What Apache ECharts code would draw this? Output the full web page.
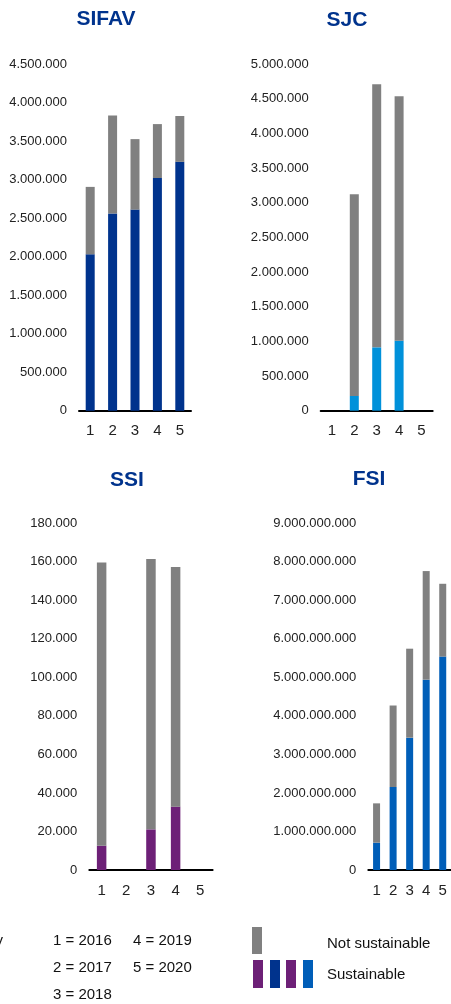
<!DOCTYPE html>
<html>
<head>
<meta charset="utf-8">
<script src="https://cdn.jsdelivr.net/npm/echarts@6/dist/echarts.min.js"></script>
<style>
html,body{margin:0;padding:0;background:#fff;}
#chart{width:451px;height:1004px;}
</style>
</head>
<body>
<div id="chart"></div>
<script>
// ---- data ----
const categories = ['1', '2', '3', '4', '5'];
const yearLabels = ['1 = 2016', '2 = 2017', '3 = 2018', '4 = 2019', '5 = 2020'];
const panelTitles = ['SIFAV', 'SJC', 'SSI', 'FSI'];

const sifavSustainable    = [2030000, 2560000, 2610000, 3020000, 3230000];
const sifavNotSustainable = [875000, 1270000, 915000, 700000, 595000];

const sjcSustainable    = [null, 212000, 914000, 1010000, null];
const sjcNotSustainable = [null, 2909000, 3793000, 3524000, null];

const ssiSustainable    = [12600, null, 21100, 32900, null];
const ssiNotSustainable = [147000, null, 140400, 124400, null];

const fsiSustainable    = [710000000, 2155000000, 3435000000, 4940000000, 5540000000];
const fsiNotSustainable = [1020000000, 2115000000, 2310000000, 2820000000, 1890000000];

const yMax      = [4500000, 5000000, 180000, 9000000000];
const yInterval = [500000, 500000, 20000, 1000000000];

const legendNot = 'Not sustainable';
const legendSus = 'Sustainable';
const keyLabel = 'Key';

// ---- styling ----
const FONT = 'Liberation Sans, Arial, sans-serif';
const GRAY = '#808080';
const TITLE_BLUE = '#00338D';
const susColors = ['#00338D', '#0091DA', '#6D2077', '#005EB8'];
const legendSwatches = ['#6D2077', '#00338D', '#6D2077', '#005EB8'];

const grids = [
  {left: 79,    top: 64,    width: 112,   height: 346.7},
  {left: 320.7, top: 64,    width: 112,   height: 346.7},
  {left: 89.3,  top: 523.3, width: 123.3, height: 346.7},
  {left: 368.3, top: 523.3, width: 86.5,  height: 346.7}
];
const barWidths = [9, 9, 9.5, 7];
const sus = [sifavSustainable, sjcSustainable, ssiSustainable, fsiSustainable];
const notSus = [sifavNotSustainable, sjcNotSustainable, ssiNotSustainable, fsiNotSustainable];
const titlePos = [[106, 19], [347, 20], [127, 480], [369, 479]];

function fmt(v) {
  return String(Math.round(v)).replace(/\B(?=(\d{3})+(?!\d))/g, '.');
}

const xAxis = [], yAxis = [], series = [], graphic = [];
grids.forEach((g, i) => {
  xAxis.push({
    type: 'category', gridIndex: i, data: categories,
    axisLine: {show: true, lineStyle: {color: '#000', width: 2}},
    axisTick: {show: false},
    axisLabel: {color: '#222', fontSize: 15, fontFamily: FONT, margin: 13}
  });
  yAxis.push({
    type: 'value', gridIndex: i, min: 0, max: yMax[i], interval: yInterval[i],
    axisLine: {show: false}, axisTick: {show: false}, splitLine: {show: false},
    axisLabel: {color: '#222', fontSize: 13, fontFamily: FONT, margin: 12, formatter: fmt}
  });
  series.push({
    type: 'bar', name: legendSus, xAxisIndex: i, yAxisIndex: i, stack: 's' + i,
    data: sus[i], barWidth: barWidths[i], itemStyle: {color: susColors[i]}
  });
  series.push({
    type: 'bar', name: legendNot, xAxisIndex: i, yAxisIndex: i, stack: 's' + i,
    data: notSus[i], barWidth: barWidths[i], itemStyle: {color: GRAY}
  });
  graphic.push({
    type: 'text', x: titlePos[i][0], y: titlePos[i][1],
    style: {text: panelTitles[i], fill: TITLE_BLUE, font: 'bold 21px ' + FONT,
            textAlign: 'center', textVerticalAlign: 'middle'}
  });
});

// year key
const keyPos = [[53, 941], [53, 968], [53, 995], [133, 941], [133, 968]];
yearLabels.forEach((t, i) => {
  graphic.push({type: 'text', x: keyPos[i][0], y: keyPos[i][1],
    style: {text: t, fill: '#111', font: '15px ' + FONT, textVerticalAlign: 'middle'}});
});
graphic.push({type: 'text', x: 3, y: 941,
  style: {text: keyLabel, fill: '#111', font: '15px ' + FONT, textAlign: 'right', textVerticalAlign: 'middle'}});

// legend swatches
graphic.push({type: 'rect', shape: {x: 252, y: 927, width: 10, height: 27}, style: {fill: GRAY}});
const swX = [253, 270, 286, 303];
legendSwatches.forEach((c, i) => {
  graphic.push({type: 'rect', shape: {x: swX[i], y: 960, width: 10, height: 28}, style: {fill: c}});
});
graphic.push({type: 'text', x: 327, y: 944,
  style: {text: legendNot, fill: '#111', font: '15px ' + FONT, textVerticalAlign: 'middle'}});
graphic.push({type: 'text', x: 327, y: 975,
  style: {text: legendSus, fill: '#111', font: '15px ' + FONT, textVerticalAlign: 'middle'}});

const chart = echarts.init(document.getElementById('chart'), null, {renderer: 'canvas'});
chart.setOption({
  animation: false,
  backgroundColor: '#fff',
  grid: grids,
  xAxis: xAxis,
  yAxis: yAxis,
  series: series,
  graphic: graphic
});
</script>
</body>
</html>
